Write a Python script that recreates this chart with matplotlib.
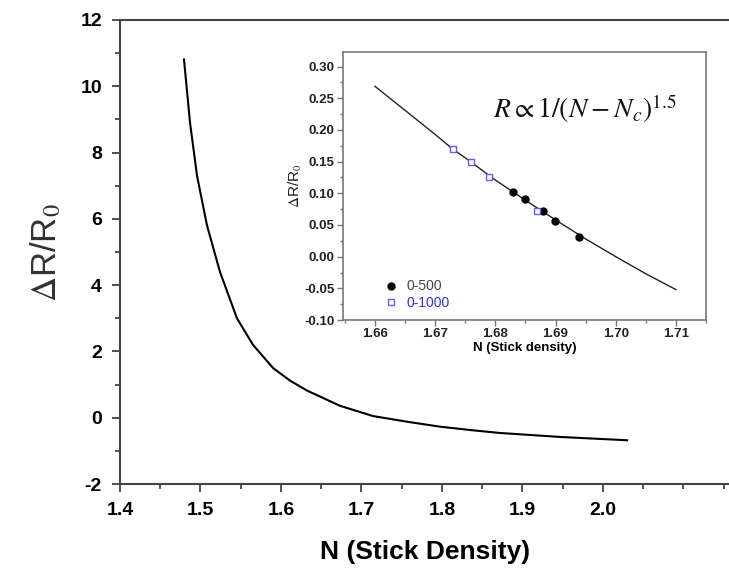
import numpy as np
import matplotlib.pyplot as plt
from matplotlib.ticker import MultipleLocator

plt.rcParams['font.family'] = ['Liberation Sans', 'DejaVu Sans']
plt.rcParams['mathtext.fontset'] = 'stix'
plt.rcParams['axes.unicode_minus'] = False

# main curve
n_main = [1.4795, 1.4870, 1.4957, 1.5081, 1.5242, 1.5453, 1.5652, 1.5901,
          1.6112, 1.6323, 1.6733, 1.7143, 1.7565, 1.7975, 1.8385, 1.8720,
          1.9466, 2.030]
r_main = [10.81, 8.90, 7.30, 5.80, 4.40, 3.00, 2.20, 1.50,
          1.12, 0.82, 0.36, 0.05, -0.12, -0.27, -0.38, -0.46,
          -0.58, -0.68]

# inset fit line
n_fit = [1.66, 1.665, 1.67, 1.6729, 1.675, 1.68, 1.685, 1.69, 1.695, 1.70, 1.705, 1.71]
r_fit = [0.269, 0.231, 0.193, 0.170, 0.156, 0.121, 0.089, 0.058, 0.028, 0.000, -0.027, -0.052]

# inset measured points
n_500 = [1.6829, 1.6849, 1.6879, 1.6899, 1.6939]
r_500 = [0.1026, 0.0905, 0.0720, 0.0570, 0.0317]
n_1000 = [1.6729, 1.6760, 1.6789, 1.6870]
r_1000 = [0.170, 0.150, 0.1265, 0.0725]

fig = plt.figure(figsize=(7.29, 5.76), dpi=100)

ax = fig.add_axes([0.1646, 0.1597, 0.837, 0.8056])
ax.plot(n_main, r_main, color='black', lw=1.5)
ax.set_xlim(1.4, 2.158)
ax.set_ylim(-2, 12)
ax.xaxis.set_minor_locator(MultipleLocator(0.05))
ax.yaxis.set_major_locator(MultipleLocator(2))
ax.yaxis.set_minor_locator(MultipleLocator(1))
ax.set_xticks([1.4, 1.5, 1.6, 1.7, 1.8, 1.9, 2.0])
ax.set_xticklabels(['1.4', '1.5', '1.6', '1.7', '1.8', '1.9', '2.0'])
for s in ['left', 'bottom', 'top', 'right']:
    ax.spines[s].set_color('#444444')
    ax.spines[s].set_linewidth(1.5)
ax.tick_params(which='major', length=6, width=1.3, color='#444444', labelsize=14, pad=7)
ax.tick_params(which='minor', length=3.5, width=1.3, color='#444444')
for lab in ax.get_xticklabels() + ax.get_yticklabels():
    lab.set_fontweight('bold')
ax.set_xlabel('N (Stick Density)', fontsize=19, fontweight='bold', labelpad=15)
ax.set_ylabel(r'$\Delta$R/R$_0$', fontsize=25, color='#333333', labelpad=12)

# inset
axi = fig.add_axes([0.4705, 0.4444, 0.498, 0.4653])
axi.plot(n_fit, r_fit, color='#222222', lw=1.0)
axi.plot(n_500, r_500, 'o', color='black', ms=5, label='0-500')
axi.plot(n_1000, r_1000, 's', mfc='white', mec='#6060ee', mew=1.0, ms=4.5, label='0-1000')
axi.set_xlim(1.6547, 1.715)
axi.set_ylim(-0.10, 0.323)
axi.xaxis.set_minor_locator(MultipleLocator(0.005))
axi.yaxis.set_minor_locator(MultipleLocator(0.025))
axi.set_yticks([-0.10, -0.05, 0.0, 0.05, 0.10, 0.15, 0.20, 0.25, 0.30])
axi.set_yticklabels(['-0.10', '-0.05', '0.00', '0.05', '0.10', '0.15', '0.20', '0.25', '0.30'])
axi.set_xticks([1.66, 1.67, 1.68, 1.69, 1.70, 1.71])
axi.set_xticklabels(['1.66', '1.67', '1.68', '1.69', '1.70', '1.71'])
for s in ['left', 'bottom', 'top', 'right']:
    axi.spines[s].set_color('#777777')
    axi.spines[s].set_linewidth(1.2)
axi.tick_params(which='major', length=4, width=1.0, color='#777777', labelsize=9.5, pad=2)
axi.tick_params(which='minor', length=2.5, width=1.0, color='#777777')
for lab in axi.get_xticklabels() + axi.get_yticklabels():
    lab.set_fontweight('bold')
    lab.set_color('#222222')
axi.set_xlabel('N (Stick density)', fontsize=9.5, fontweight='bold', labelpad=1)
axi.set_ylabel(r'$\Delta$R/R$_0$', fontsize=11, color='#222222', labelpad=0)
axi.text(0.413, 0.754, r'$R \propto 1/(N-N_c)^{1.5}$', transform=axi.transAxes,
         fontsize=20, color='#111111', va='baseline')
leg = axi.legend(loc='lower left', bbox_to_anchor=(0.08, -0.01), frameon=False,
                 fontsize=10, handlelength=1.0, handletextpad=0.6, labelspacing=0.2)
leg.get_texts()[0].set_color('#444444')
leg.get_texts()[1].set_color('#3030dd')

fig.savefig('out.png', dpi=100)
